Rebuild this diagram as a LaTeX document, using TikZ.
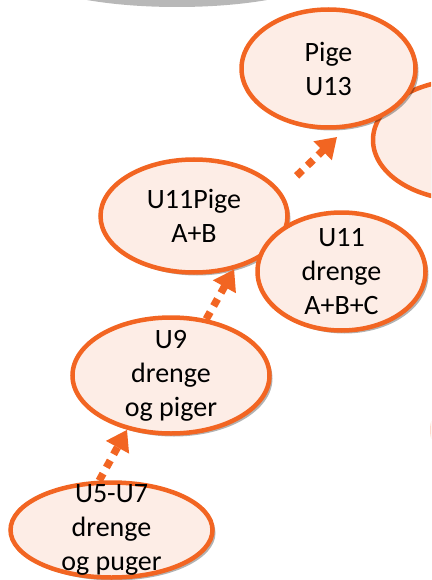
\documentclass[tikz,border=0pt]{standalone}
\usepackage{fontspec}
\setmainfont{Carlito}
\usepackage{xcolor}
\usepackage{tikz}
\usetikzlibrary{positioning,shapes,arrows.meta,shadows}

\definecolor{kant}{RGB}{242,101,34}
\definecolor{bund}{RGB}{253,237,230}
\definecolor{graa}{RGB}{184,184,184}

\begin{document}
\begin{tikzpicture}
            [x=1pt,y=-1pt,
             knude/.style={draw=kant, fill=bund, ellipse, line width=4.5pt, inner sep=0pt,
               drop shadow={shadow xshift=3pt, shadow yshift=-3pt, opacity=.3, fill=black}},
             tekst/.style={align=center, text=black, inner sep=0pt, font=\fontsize{28}{34}\selectfont},
             pil/.style={draw=kant, line width=7.5pt, dash pattern=on 8pt off 7pt, -{Triangle[length=20pt,width=25pt]}}]
            \clip (0,0) rectangle (431,580);

            \fill[graa] (177,-28) ellipse [x radius=150, y radius=35];
            \node[draw=kant!35, line width=1.5pt, ellipse, minimum width=180pt, minimum height=120pt] (n0) at (521,430) {};

            \node[knude, minimum width=184pt, minimum height=120pt] (n2) at (465,140) {};
            \node[knude, minimum width=174pt, minimum height=118pt, label={[tekst]center:{Pige\\U13}}] (n1) at (328.5,68.5) {};
            \node[knude, minimum width=187pt, minimum height=113pt, label={[tekst]center:{U11Pige\\A+B}}] (n3) at (194,216) {};
            \node[knude, minimum width=168pt, minimum height=118pt, label={[tekst]center:{U11\\drenge\\A+B+C}}] (n4) at (341.5,271.5) {};
            \node[knude, minimum width=197pt, minimum height=116pt, label={[tekst]center:{U9\\drenge\\og piger}}] (n5) at (171,375.5) {};
            \node[knude, minimum width=202pt, minimum height=95pt, label={[tekst]center:{U5-U7\\drenge\\og puger}}] (n6) at (111.5,530) {};

            \foreach \from/\to/\a/\b in {n6.104/n5.231/0pt/0pt, n5.58/n3.307/0pt/0pt, n3.16/n1.286/22pt/12pt}
            \draw[pil, shorten <=\a, shorten >=\b] (\from) -- (\to);
          \end{tikzpicture}
\end{document}
